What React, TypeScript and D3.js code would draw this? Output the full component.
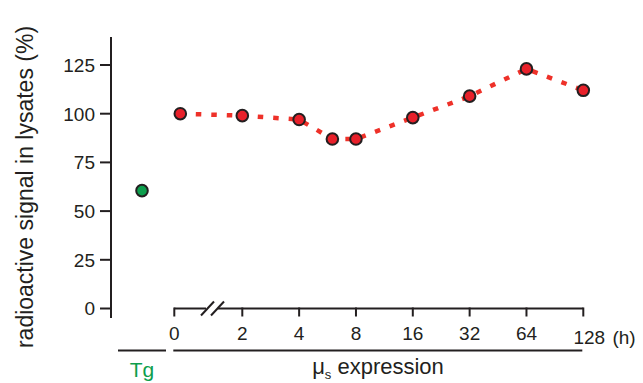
import React from "react";
import * as d3 from "d3";

// time points (h) and signal (%) for the mu_s expression series
const hours = [0, 2, 4, 6, 8, 16, 32, 64, 128];
const signal = [100, 99, 97, 87, 87, 98, 109, 123, 112];
const tickHours = [0, 2, 4, 8, 16, 32, 64, 128];
const yTicks = [0, 25, 50, 75, 100, 125];
const tgLabel = "Tg";
const tgValue = [60.5];

const W = 643;
const H = 383;
const FONT = "'Liberation Sans', Arial, Helvetica, sans-serif";
const INK = "#231f20";
const RED = "#e8202a";
const DASH = "#ee3129";
const GREEN = "#0d9e4d";

export default function App() {
  const y = d3.scaleLinear().domain([0, 125]).range([308.5, 65]);
  const xLog = d3.scaleLog().base(2).domain([2, 128]).range([242.3, 583.3]);
  // 0 h sits before the axis break
  const zeroTick = xLog(2) - 68;
  const zeroPoint = xLog(2) - 62;
  const xTick = (h: number) => (h === 0 ? zeroTick : xLog(h));
  const xPoint = (h: number) => (h === 0 ? zeroPoint : xLog(h));

  const axisX = 111;
  const tgX = 142;
  const baseY = y(0);

  const pts = hours.map((h, i) => [xPoint(h), y(signal[i])] as [number, number]);
  const path = d3.line()(pts) || "";

  const breakX = 206;

  return (
    <svg
      width={W}
      height={H}
      style={{ position: "absolute", left: 0, top: 0, background: "#fff" }}
      fontFamily={FONT}
    >
      {/* y axis */}
      <line x1={axisX} x2={axisX} y1={37} y2={318} stroke={INK} strokeWidth={2} />
      {yTicks.map((t) => (
        <g key={t} transform={`translate(0,${y(t)})`}>
          <line x1={100} x2={axisX} stroke={INK} strokeWidth={2} />
          <text x={95} dy="0.36em" textAnchor="end" fontSize={19} fill={INK}>
            {t}
          </text>
        </g>
      ))}
      <text
        transform={`translate(33,187) rotate(-90)`}
        textAnchor="middle"
        fontSize={23}
        fill={INK}
      >
        radioactive signal in lysates (%)
      </text>

      {/* x axis with break */}
      <line x1={zeroTick} x2={breakX} y1={baseY} y2={baseY} stroke={INK} strokeWidth={2} />
      <line x1={breakX + 12} x2={xLog(128)} y1={baseY} y2={baseY} stroke={INK} strokeWidth={2} />
      <line x1={breakX - 5} y1={baseY + 7} x2={breakX + 8} y2={baseY - 7} stroke={INK} strokeWidth={2} />
      <line x1={breakX + 5} y1={baseY + 7} x2={breakX + 18} y2={baseY - 7} stroke={INK} strokeWidth={2} />
      {tickHours.map((h) => (
        <g key={h} transform={`translate(${xTick(h)},${baseY})`}>
          <line y1={-1} y2={8} stroke={INK} strokeWidth={2} />
          <text
            x={h === 128 ? 6 : 0}
            y={h === 128 ? 35 : 31}
            textAnchor="middle"
            fontSize={19}
            fill={INK}
          >
            {h}
          </text>
        </g>
      ))}
      <text x={624} y={baseY + 35} textAnchor="middle" fontSize={19} fill={INK}>
        (h)
      </text>

      {/* group brackets */}
      <line x1={118} x2={166} y1={350.5} y2={350.5} stroke={INK} strokeWidth={2} />
      <line x1={zeroTick - 1} x2={xLog(128) - 1} y1={350.5} y2={350.5} stroke={INK} strokeWidth={2} />
      <text x={tgX} y={377} textAnchor="middle" fontSize={21} fill={GREEN}>
        {tgLabel}
      </text>
      <text x={378} y={374} textAnchor="middle" fontSize={22} fill={INK}>
        μ<tspan fontSize={13} dy={5}>s</tspan>
        <tspan dy={-5}> expression</tspan>
      </text>

      {/* series */}
      <path d={path} fill="none" stroke={DASH} strokeWidth={4.5} strokeDasharray="5.5,10" />
      {pts.map(([px, py], i) => (
        <circle key={i} cx={px} cy={py} r={5.8} fill={RED} stroke={INK} strokeWidth={2} />
      ))}
      {tgValue.map((v, i) => (
        <circle key={i} cx={tgX} cy={y(v)} r={5.8} fill={GREEN} stroke={INK} strokeWidth={2} />
      ))}
    </svg>
  );
}
